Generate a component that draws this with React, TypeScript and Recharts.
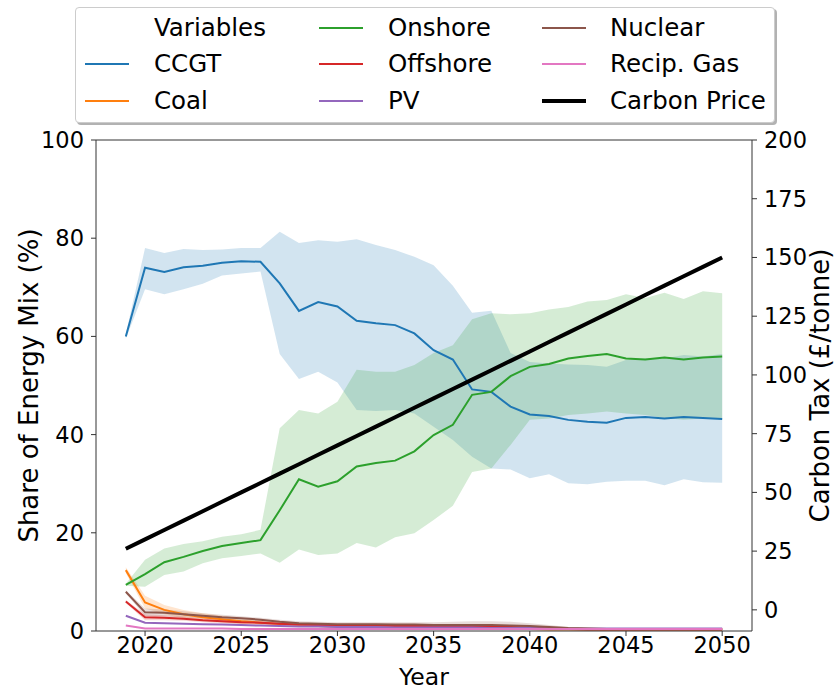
import { ComposedChart, Line, Area, XAxis, YAxis, ReferenceLine } from "recharts";

const years = [
  2019, 2020, 2021, 2022, 2023, 2024, 2025, 2026, 2027, 2028, 2029, 2030, 2031, 2032, 2033, 2034,
  2035, 2036, 2037, 2038, 2039, 2040, 2041, 2042, 2043, 2044, 2045, 2046, 2047, 2048, 2049, 2050,
];

const ccgt = [60, 74, 73.1, 74.1, 74.4, 75.0, 75.3, 75.2, 70.8, 65.2, 67.0, 66.1, 63.2, 62.7, 62.3, 60.6, 57.2, 55.3, 49.2, 48.7, 45.7, 44.1, 43.8, 43.0, 42.6, 42.4, 43.4, 43.6, 43.3, 43.6, 43.4, 43.2];
const ccgtHigh = [60.5, 78, 77, 77.8, 77.6, 77.7, 78, 78, 81.3, 79.0, 79.6, 79.3, 79.8, 78.6, 77.6, 76.2, 74.5, 70.3, 64.8, 65.2, 56.6, 54.8, 54.5, 54.3, 54.2, 53.8, 55.2, 55.5, 55.5, 56.2, 55.9, 56.4];
const ccgtLow = [59.5, 69.6, 68.6, 69.6, 70.7, 72.4, 72.8, 73.2, 56.4, 51.3, 52.8, 50.6, 45.0, 44.8, 45.0, 44.3, 41.6, 38.9, 35.5, 33.1, 32.9, 31.1, 31.9, 30.1, 29.9, 30.4, 30.6, 30.6, 29.7, 30.9, 30.3, 30.2];

const onshore = [9.4, 11.6, 14.0, 15.1, 16.3, 17.3, 17.9, 18.5, 24.6, 30.9, 29.4, 30.5, 33.5, 34.2, 34.7, 36.6, 39.9, 42.0, 48.1, 48.7, 51.9, 53.8, 54.4, 55.5, 56.0, 56.4, 55.5, 55.3, 55.7, 55.3, 55.7, 55.9];
const onshoreHigh = [9.6, 14.5, 16.8, 17.7, 18.3, 19.2, 19.7, 20.6, 41.3, 45.0, 44.3, 46.7, 53.2, 52.8, 52.8, 54.2, 56.6, 58.2, 63.5, 64.7, 64.5, 64.7, 65.5, 66.0, 67.1, 67.4, 68.6, 67.8, 68.9, 67.6, 69.2, 68.8];
const onshoreLow = [9.2, 9.0, 11.4, 12.1, 13.8, 14.8, 15.3, 15.8, 13.9, 16.6, 15.5, 15.8, 17.9, 17.0, 19.1, 19.9, 22.6, 25.5, 32.4, 33.1, 37.9, 43.0, 43.3, 44.0, 44.3, 44.7, 44.3, 44.0, 43.4, 43.0, 43.3, 43.3];

const coal = [12.4, 5.8, 4.3, 3.4, 2.8, 2.4, 2.0, 1.7, 1.4, 1.2, 1.0, 0.9, 0.8, 0.7, 0.6, 0.6, 0.5, 0.5, 0.5, 0.4, 0.4, 0.4, 0.3, 0.3, 0.3, 0.3, 0.3, 0.3, 0.3, 0.3, 0.3, 0.3];
const coalHigh = [13.0, 7.2, 5.3, 4.3, 3.6, 3.1, 2.6, 2.2, 1.9, 1.6, 1.4, 1.3, 1.2, 1.1, 1.0, 0.9, 0.9, 0.8, 0.8, 0.7, 0.7, 0.6, 0.5, 0.4, 0.4, 0.4, 0.4, 0.4, 0.4, 0.4, 0.4, 0.4];
const coalLow = [11.8, 4.6, 3.4, 2.6, 2.1, 1.8, 1.5, 1.2, 1.0, 0.8, 0.7, 0.6, 0.5, 0.4, 0.3, 0.3, 0.2, 0.2, 0.2, 0.2, 0.2, 0.2, 0.2, 0.2, 0.2, 0.2, 0.2, 0.2, 0.2, 0.2, 0.2, 0.2];

const offshore = [6.0, 2.8, 2.7, 2.5, 2.2, 2.0, 1.8, 1.7, 1.5, 1.3, 1.2, 1.1, 1.1, 1.1, 1.0, 1.0, 1.0, 1.0, 1.0, 0.9, 0.8, 0.7, 0.5, 0.4, 0.3, 0.3, 0.3, 0.3, 0.3, 0.3, 0.3, 0.3];
const offshoreHigh = [6.3, 3.4, 3.2, 2.9, 2.6, 2.4, 2.2, 2.0, 1.8, 1.6, 1.5, 1.4, 1.4, 1.4, 1.3, 1.3, 1.3, 1.3, 1.3, 1.2, 1.1, 0.9, 0.7, 0.5, 0.4, 0.4, 0.4, 0.4, 0.4, 0.4, 0.4, 0.4];
const offshoreLow = [5.7, 2.2, 2.2, 2.1, 1.8, 1.6, 1.4, 1.3, 1.2, 1.0, 0.9, 0.8, 0.8, 0.8, 0.7, 0.7, 0.7, 0.7, 0.7, 0.6, 0.5, 0.5, 0.3, 0.3, 0.2, 0.2, 0.2, 0.2, 0.2, 0.2, 0.2, 0.2];

const pv = [3.1, 1.7, 1.6, 1.5, 1.4, 1.3, 1.2, 1.1, 1.0, 0.9, 0.9, 0.8, 0.8, 0.8, 0.7, 0.7, 0.7, 0.7, 0.7, 0.6, 0.6, 0.6, 0.5, 0.5, 0.5, 0.5, 0.5, 0.5, 0.5, 0.5, 0.5, 0.5];

const nuclear = [8.0, 3.8, 3.7, 3.4, 3.1, 2.8, 2.6, 2.3, 1.9, 1.6, 1.5, 1.4, 1.4, 1.4, 1.3, 1.3, 1.2, 1.2, 1.2, 1.2, 1.1, 1.0, 0.8, 0.6, 0.5, 0.4, 0.4, 0.4, 0.4, 0.4, 0.4, 0.4];
const nuclearHigh = [8.3, 4.6, 4.4, 4.0, 3.6, 3.3, 3.0, 2.7, 2.3, 2.0, 1.9, 1.8, 1.8, 1.8, 1.8, 1.8, 1.8, 1.9, 2.0, 2.0, 1.9, 1.6, 1.2, 0.8, 0.6, 0.5, 0.5, 0.5, 0.5, 0.5, 0.5, 0.5];
const nuclearLow = [7.7, 3.0, 3.0, 2.8, 2.6, 2.3, 2.1, 1.9, 1.5, 1.2, 1.1, 1.0, 1.0, 1.0, 0.9, 0.8, 0.7, 0.6, 0.5, 0.5, 0.4, 0.4, 0.4, 0.4, 0.3, 0.3, 0.3, 0.3, 0.3, 0.3, 0.3, 0.3];

const recipGas = [1.1, 0.5, 0.5, 0.5, 0.5, 0.5, 0.4, 0.4, 0.4, 0.4, 0.4, 0.4, 0.4, 0.4, 0.4, 0.4, 0.4, 0.4, 0.4, 0.4, 0.4, 0.4, 0.4, 0.4, 0.4, 0.4, 0.4, 0.4, 0.4, 0.4, 0.4, 0.4];

const carbonPrice = [26, 30, 34, 38, 42, 46, 50, 54, 58, 62, 66, 70, 74, 78, 82, 86, 90, 94, 98, 102, 106, 110, 114, 118, 122, 126, 130, 134, 138, 142, 146, 150];

const yearTicks = [2020, 2025, 2030, 2035, 2040, 2045, 2050];
const shareTicks = [0, 20, 40, 60, 80, 100];
const taxTicks = [0, 25, 50, 75, 100, 125, 150, 175, 200];

const FONT = "'DejaVu Sans', sans-serif";

const data = years.map((year, i) => ({
  year,
  ccgt: ccgt[i],
  ccgtBand: [ccgtLow[i], ccgtHigh[i]],
  coal: coal[i],
  coalBand: [coalLow[i], coalHigh[i]],
  onshore: onshore[i],
  onshoreBand: [onshoreLow[i], onshoreHigh[i]],
  offshore: offshore[i],
  offshoreBand: [offshoreLow[i], offshoreHigh[i]],
  pv: pv[i],
  nuclear: nuclear[i],
  nuclearBand: [nuclearLow[i], nuclearHigh[i]],
  recipGas: recipGas[i],
  carbonPrice: carbonPrice[i],
}));

const legendItems = [
  { label: "Variables", color: null, width: 0, col: 0, row: 0 },
  { label: "CCGT", color: "#1f77b4", width: 2, col: 0, row: 1 },
  { label: "Coal", color: "#ff7f0e", width: 2, col: 0, row: 2 },
  { label: "Onshore", color: "#2ca02c", width: 2, col: 1, row: 0 },
  { label: "Offshore", color: "#d62728", width: 2, col: 1, row: 1 },
  { label: "PV", color: "#9467bd", width: 2, col: 1, row: 2 },
  { label: "Nuclear", color: "#8c564b", width: 2, col: 2, row: 0 },
  { label: "Recip. Gas", color: "#e377c2", width: 2, col: 2, row: 1 },
  { label: "Carbon Price", color: "#000", width: 4, col: 2, row: 2 },
];

const colLine = [9, 243, 466];
const colText = [78, 312, 534];
const rowY = [20, 56, 93];

const tickStyle = { fontSize: 22.5, fill: "#000", fontFamily: FONT };
const axisStroke = "#333";
const TITLE_SIZE = 26;

const ChartLegend = () => (
  <div
    style={{
      position: "absolute",
      left: 75,
      top: 7,
      width: 700,
      height: 116,
      border: "1px solid #ccc",
      borderRadius: 4,
      background: "#fff",
      boxShadow: "2px 2px 0 rgba(0,0,0,0.3)",
      fontFamily: FONT,
      fontSize: 24.5,
      boxSizing: "border-box",
    }}
  >
    {legendItems.map((it) => (
      <div key={it.label}>
        {it.color && (
          <div
            style={{
              position: "absolute",
              left: colLine[it.col],
              top: rowY[it.row] - it.width / 2,
              width: 44,
              height: it.width,
              background: it.color,
            }}
          />
        )}
        <div
          style={{
            position: "absolute",
            left: colText[it.col],
            top: rowY[it.row] - 15,
            lineHeight: "30px",
            whiteSpace: "nowrap",
          }}
        >
          {it.label}
        </div>
      </div>
    ))}
  </div>
);

export default function App() {
  return (
    <div style={{ position: "absolute", left: 0, top: 0, width: 835, height: 690, background: "#fff" }}>
      <ComposedChart width={835} height={690} data={data} margin={{ top: 140, right: 0, bottom: 0, left: 0 }}>
        <XAxis
          dataKey="year"
          type="number"
          domain={[2017.45, 2051.55]}
          ticks={yearTicks}
          allowDataOverflow
          height={59}
          tick={tickStyle}
          tickSize={5}
          tickMargin={1}
          stroke={axisStroke}
          label={({ viewBox }: any) => (
            <text
              x={viewBox.x + viewBox.width / 2}
              y={676.5}
              textAnchor="middle"
              dominantBaseline="central"
              fontSize={23.5}
              fontFamily={FONT}
              fill="#000"
            >
              Year
            </text>
          )}
        />
        <YAxis
          yAxisId="left"
          domain={[0, 100]}
          ticks={shareTicks}
          allowDataOverflow
          width={96}
          tick={tickStyle}
          tickSize={5}
          tickMargin={7}
          stroke={axisStroke}
          label={({ viewBox }: any) => {
            const cx = 29;
            const cy = viewBox.y + viewBox.height / 2;
            return (
              <text
                x={cx}
                y={cy}
                transform={`rotate(-90 ${cx} ${cy})`}
                textAnchor="middle"
                dominantBaseline="central"
                fontSize={TITLE_SIZE}
                fontFamily={FONT}
                fill="#000"
              >
                Share of Energy Mix (%)
              </text>
            );
          }}
        />
        <YAxis
          yAxisId="right"
          orientation="right"
          domain={[-9, 200]}
          ticks={taxTicks}
          allowDataOverflow
          width={83}
          tick={tickStyle}
          tickSize={5}
          tickMargin={7}
          stroke={axisStroke}
          label={({ viewBox }: any) => {
            const cx = 820;
            const cy = viewBox.y + viewBox.height / 2;
            return (
              <text
                x={cx}
                y={cy}
                transform={`rotate(-90 ${cx} ${cy})`}
                textAnchor="middle"
                dominantBaseline="central"
                fontSize={TITLE_SIZE}
                fontFamily={FONT}
                fill="#000"
              >
                Carbon Tax (£/tonne)
              </text>
            );
          }}
        />
        <ReferenceLine yAxisId="left" y={100} stroke={axisStroke} />

        <Area yAxisId="left" dataKey="ccgtBand" stroke="none" fill="#1f77b4" fillOpacity={0.2} isAnimationActive={false} />
        <Area yAxisId="left" dataKey="coalBand" stroke="none" fill="#ff7f0e" fillOpacity={0.2} isAnimationActive={false} />
        <Area yAxisId="left" dataKey="onshoreBand" stroke="none" fill="#2ca02c" fillOpacity={0.2} isAnimationActive={false} />
        <Area yAxisId="left" dataKey="offshoreBand" stroke="none" fill="#d62728" fillOpacity={0.2} isAnimationActive={false} />
        <Area yAxisId="left" dataKey="nuclearBand" stroke="none" fill="#8c564b" fillOpacity={0.2} isAnimationActive={false} />

        <Line yAxisId="left" dataKey="ccgt" stroke="#1f77b4" strokeWidth={2} dot={false} isAnimationActive={false} />
        <Line yAxisId="left" dataKey="coal" stroke="#ff7f0e" strokeWidth={2} dot={false} isAnimationActive={false} />
        <Line yAxisId="left" dataKey="onshore" stroke="#2ca02c" strokeWidth={2} dot={false} isAnimationActive={false} />
        <Line yAxisId="left" dataKey="offshore" stroke="#d62728" strokeWidth={2} dot={false} isAnimationActive={false} />
        <Line yAxisId="left" dataKey="pv" stroke="#9467bd" strokeWidth={2} dot={false} isAnimationActive={false} />
        <Line yAxisId="left" dataKey="nuclear" stroke="#8c564b" strokeWidth={2} dot={false} isAnimationActive={false} />
        <Line yAxisId="left" dataKey="recipGas" stroke="#e377c2" strokeWidth={2} dot={false} isAnimationActive={false} />

        <Line yAxisId="right" dataKey="carbonPrice" stroke="#000" strokeWidth={4} dot={false} isAnimationActive={false} />
      </ComposedChart>
      <ChartLegend />
    </div>
  );
}
